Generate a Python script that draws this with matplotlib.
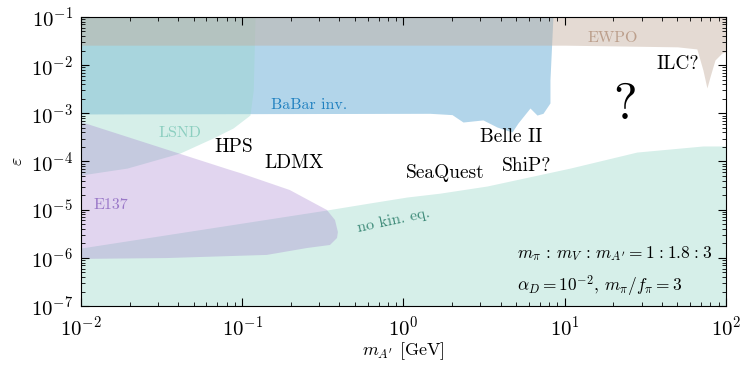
import matplotlib
matplotlib.use("Agg")
import matplotlib.pyplot as plt
from matplotlib.ticker import LogLocator, NullFormatter

plt.rcParams['font.family'] = 'serif'
plt.rcParams['font.serif'] = ['cmr10']
plt.rcParams['mathtext.fontset'] = 'cm'
plt.rcParams['axes.formatter.use_mathtext'] = True
plt.rcParams['axes.unicode_minus'] = False

# ---- data (m_A' in GeV, epsilon) ----
babar_x = [0.01, 1.46, 2.0, 2.34, 3.11, 3.80, 4.71, 5.13, 6.09, 6.73, 7.33, 8.1, 8.1, 8.45]
babar_y = [9.7e-4, 1.0e-3, 9.4e-4, 6.6e-4, 7.3e-4, 5.2e-4, 4.1e-4, 6.3e-4, 1.29e-3, 9.2e-4, 1.0e-3, 1.64e-3, 4.9e-3, 0.1]

lsnd_x = [0.01, 0.0193, 0.0411, 0.0659, 0.0877, 0.1116, 0.117, 0.12]
lsnd_y = [5.25e-5, 7.3e-5, 1.5e-4, 3.08e-4, 4.96e-4, 9.2e-4, 3.05e-3, 0.1]

nokin_x = [0.01, 0.335, 0.62, 1.05, 1.68, 3.3, 10.8, 28.0, 72.0, 100.0]
nokin_y = [1.6e-6, 9.85e-6, 1.38e-5, 1.83e-5, 2.2e-5, 3.1e-5, 7.3e-5, 1.57e-4, 2.1e-4, 2.1e-4]

e137_x = [0.01, 0.0839, 0.097, 0.197, 0.335, 0.376, 0.392, 0.387, 0.35, 0.252, 0.142, 0.034, 0.01]
e137_y = [6.6e-4, 6.7e-5, 5.77e-5, 2.56e-5, 9.85e-6, 6.1e-6, 3.44e-6, 2.58e-6, 1.85e-6, 1.6e-6, 1.15e-6, 9.9e-7, 9.5e-7]

ewpo_x = [0.01, 10.0, 50.0, 66.0, 72.0, 76.2, 79.6, 85.5, 94.5, 100.0]
ewpo_y = [2.6e-2, 2.6e-2, 2.4e-2, 2.17e-2, 7.9e-3, 3.36e-3, 5.7e-3, 1.28e-2, 1.79e-2, 1.88e-2]

x_ticks = [1e-2, 1e-1, 1e0, 1e1, 1e2]
y_ticks = [1e-7, 1e-6, 1e-5, 1e-4, 1e-3, 1e-2, 1e-1]

XMIN, XMAX, YMIN, YMAX = 1e-2, 1e2, 1e-7, 1e-1

fig = plt.figure(figsize=(7.4, 3.66), dpi=100)
ax = fig.add_axes([0.1095, 0.1639, 0.8715, 0.7897])
ax.set_xscale('log')
ax.set_yscale('log')

# BaBar invisible
ax.fill_between(babar_x, babar_y, YMAX, color='#2387c3', alpha=0.35, lw=0)
# LSND
ax.fill_betweenx(lsnd_y, XMIN, lsnd_x, color='#99d7ca', alpha=0.4, lw=0)
# no kinetic equilibrium
ax.fill_between(nokin_x, YMIN, nokin_y, color='#99d7ca', alpha=0.4, lw=0)
# E137
ax.fill(e137_x, e137_y, color='#9e76ca', alpha=0.3, lw=0)
# EWPO
ax.fill_between(ewpo_x, ewpo_y, YMAX, color='#c4ae9e', alpha=0.45, lw=0)

# labels
ax.text(0.041, 3.9e-4, 'LSND', color='#8ccfc0', fontsize=11.5, ha='center', va='center')
ax.text(0.26, 1.49e-3, 'BaBar inv.', color='#1f80c0', fontsize=11.5, ha='center', va='center')
ax.text(19.9, 3.66e-2, 'EWPO', color='#bc9f8c', fontsize=11.5, ha='center', va='center')
ax.text(0.012, 1.25e-5, 'E137', color='#9a78c8', fontsize=11.5, ha='left', va='center')
ax.text(0.873, 6.1e-6, 'no kin. eq.', color='#3d8a78', fontsize=11.5, ha='center', va='center', rotation=12)
ax.text(0.089, 2.0e-4, 'HPS', fontsize=14, ha='center', va='center')
ax.text(0.209, 9.3e-5, 'LDMX', fontsize=14, ha='center', va='center')
ax.text(1.81, 5.77e-5, 'SeaQuest', fontsize=14, ha='center', va='center')
ax.text(4.64, 3.23e-4, 'Belle II', fontsize=14, ha='center', va='center')
ax.text(5.83, 8.07e-5, 'ShiP?', fontsize=14, ha='center', va='center')
ax.text(50.4, 1.06e-2, 'ILC?', fontsize=14, ha='center', va='center')
ax.text(23.7, 1.4e-3, '?', fontsize=36, ha='center', va='center')
ax.text(5.06, 1.2e-6,
        r"$m_\pi\,:\,m_V\,:\,m_{A'} = 1\hspace{0.08}:\hspace{0.08}1.8\hspace{0.08}:\hspace{0.08}3$",
        fontsize=12.5, ha='left', va='center')
ax.text(5.06, 2.5e-7, r"$\alpha_D = 10^{-2}$, $m_\pi/f_\pi = 3$", fontsize=12.5, ha='left', va='center')

ax.set_xlabel(r"$m_{A'}$ [GeV]", fontsize=13, labelpad=0)
ax.set_ylabel(r"$\varepsilon$", fontsize=13, labelpad=4)

ax.set_xticks(x_ticks)
ax.set_yticks(y_ticks)
ax.yaxis.set_minor_locator(LogLocator(base=10, subs=range(2, 10), numticks=20))
ax.yaxis.set_minor_formatter(NullFormatter())
ax.xaxis.set_minor_locator(LogLocator(base=10, subs=range(2, 10), numticks=20))
ax.xaxis.set_minor_formatter(NullFormatter())
ax.set_xlim(XMIN, XMAX)
ax.set_ylim(YMIN, YMAX)
ax.tick_params(which='both', direction='in', top=True, right=True, labelsize=15)
ax.tick_params(axis='x', which='major', pad=7)
ax.tick_params(axis='y', which='major', pad=6)
ax.tick_params(which='major', length=6, width=0.8)
ax.tick_params(which='minor', length=3, width=0.6)

fig.savefig('out.png', dpi=100)
